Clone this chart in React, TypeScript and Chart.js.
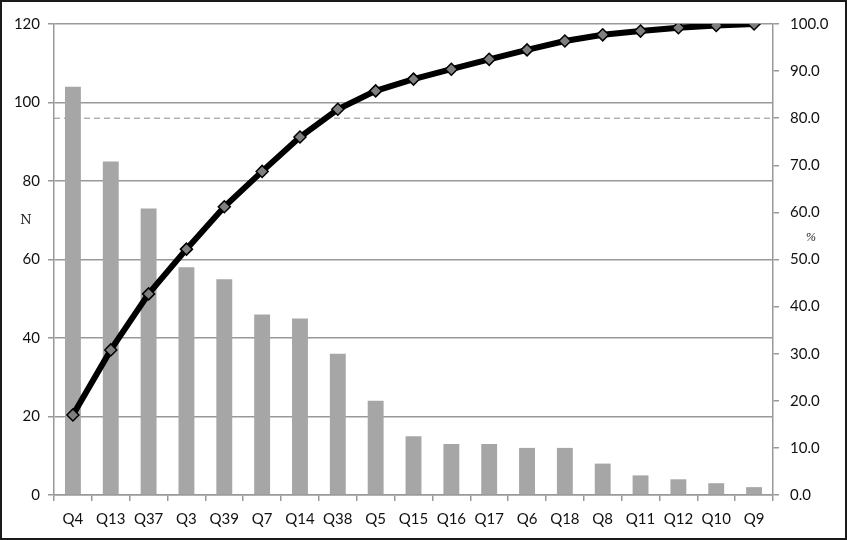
import React, { useEffect, useRef } from "react";
import { Chart, registerables } from "chart.js";

Chart.register(...registerables);

const categories = ["Q4", "Q13", "Q37", "Q3", "Q39", "Q7", "Q14", "Q38", "Q5", "Q15", "Q16", "Q17", "Q6", "Q18", "Q8", "Q11", "Q12", "Q10", "Q9"];
const counts = [104, 85, 73, 58, 55, 46, 45, 36, 24, 15, 13, 13, 12, 12, 8, 5, 4, 3, 2];
const cumulativePct = [17.0, 30.8, 42.7, 52.2, 61.2, 68.7, 76.0, 81.9, 85.8, 88.3, 90.4, 92.5, 94.5, 96.4, 97.7, 98.5, 99.2, 99.7, 100.0];
const thresholdPct = 80;
const leftAxisLabel = "N";
const rightAxisLabel = "%";

const FONT = "Lato, 'Open Sans', sans-serif";

const overlayPlugin = {
  id: "overlay",
  beforeDatasetsDraw(chart: any) {
    const { ctx, chartArea, scales } = chart;
    const y = scales.y1.getPixelForValue(thresholdPct);
    ctx.save();
    ctx.strokeStyle = "#8a8a8a";
    ctx.lineWidth = 1;
    ctx.setLineDash([6, 4]);
    ctx.beginPath();
    ctx.moveTo(chartArea.left, y);
    ctx.lineTo(chartArea.right, y);
    ctx.stroke();
    ctx.restore();
  },
  afterDraw(chart: any) {
    const { ctx, scales } = chart;
    ctx.save();
    ctx.fillStyle = "#222";
    ctx.font = "13px 'DejaVu Serif', 'Liberation Serif', serif";
    ctx.textAlign = "center";
    ctx.textBaseline = "middle";
    ctx.fillText(leftAxisLabel, 26, scales.y.getPixelForValue(70));
    ctx.font = "italic 12px 'Liberation Serif', serif";
    ctx.fillText(rightAxisLabel, 811, scales.y1.getPixelForValue(54.5));
    ctx.restore();
  },
};

export default function App() {
  const ref = useRef<HTMLCanvasElement | null>(null);
  useEffect(() => {
    document.body.style.margin = "0";
    const chart = new Chart(ref.current as HTMLCanvasElement, {
      type: "bar",
      data: {
        labels: categories,
        datasets: [
          {
            type: "line",
            data: cumulativePct,
            yAxisID: "y1",
            borderColor: "#000",
            borderWidth: 6,
            pointStyle: "rectRot",
            pointRadius: 6,
            pointBackgroundColor: "#7f7f7f",
            pointBorderColor: "#000",
            pointBorderWidth: 1.5,
            tension: 0,
            order: 0,
          } as any,
          {
            type: "bar",
            data: counts,
            yAxisID: "y",
            backgroundColor: "#a6a6a6",
            categoryPercentage: 1,
            barPercentage: 0.42,
            order: 1,
          },
        ],
      },
      options: {
        responsive: true,
        maintainAspectRatio: false,
        animation: false,
        layout: { padding: { top: 24, left: 0, right: 0, bottom: 0 } },
        plugins: { legend: { display: false }, tooltip: { enabled: false } },
        scales: {
          x: {
            offset: true,
            afterFit: (s: any) => { s.height = 45; },
            grid: { offset: true, drawOnChartArea: false, tickLength: 6, color: "#999", lineWidth: 1.5 },
            border: { color: "#999", width: 1.5 },
            ticks: { color: "#111", font: { family: FONT, size: 15 }, padding: 9, autoSkip: false, maxRotation: 0 },
          },
          y: {
            position: "left",
            min: 0,
            max: 120,
            afterFit: (s: any) => { s.width = 54; },
            ticks: { stepSize: 20, color: "#111", font: { family: FONT, size: 15 }, padding: 8 },
            grid: { color: "#999", lineWidth: 1.5, tickLength: 6 },
            border: { color: "#999", width: 1.5 },
          },
          y1: {
            position: "right",
            min: 0,
            max: 100,
            afterFit: (s: any) => { s.width = 74; },
            ticks: { stepSize: 10, color: "#111", font: { family: FONT, size: 15 }, padding: 11, callback: (v: any) => Number(v).toFixed(1) },
            grid: { drawOnChartArea: false, color: "#999", lineWidth: 1.5, tickLength: 6 },
            border: { color: "#999", width: 1.5 },
          },
        },
      },
      plugins: [overlayPlugin],
    });
    return () => chart.destroy();
  }, []);
  return (
    <div style={{ position: "relative", width: 847, height: 540, background: "#fff" }}>
      <canvas ref={ref} />
      <div style={{ position: "absolute", inset: 0, border: "2px solid #1a1a1a", pointerEvents: "none" }} />
    </div>
  );
}
